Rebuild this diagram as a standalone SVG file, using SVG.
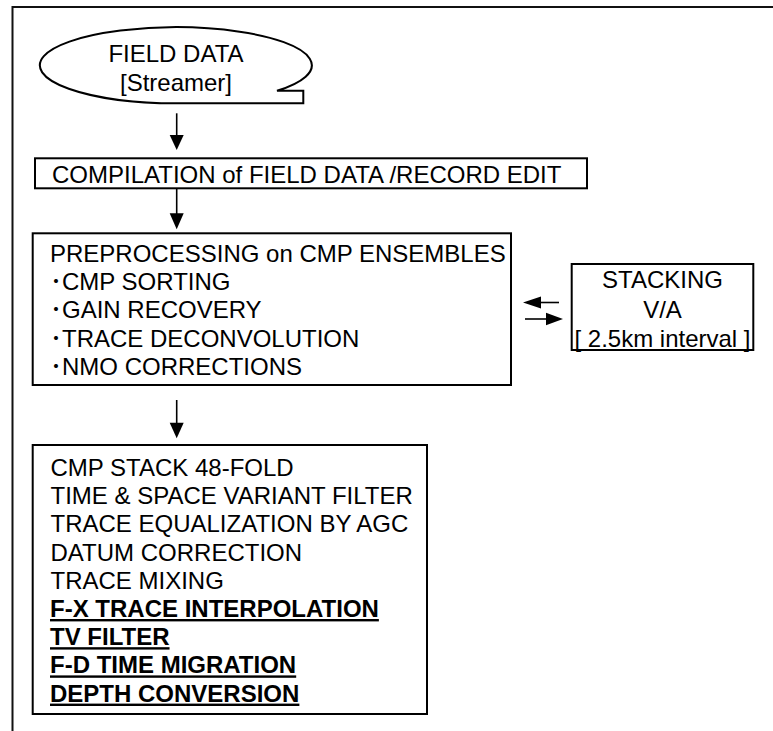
<svg xmlns="http://www.w3.org/2000/svg" width="773" height="731" viewBox="0 0 773 731">
  <style>
    .txt { font-family: "Liberation Sans", Arial, "Noto Sans CJK JP", sans-serif; font-size: 24px; fill: #000; }
    .mid { text-anchor: middle; }
    .bold { font-weight: bold; text-decoration: underline; }
    .box { fill: #fff; stroke: #000; stroke-width: 2; }
    .frame { fill: none; stroke: #111; stroke-width: 2; }
    .conn line { stroke: #000; stroke-width: 1.6; }
    .head { fill: #000; stroke: none; }
  </style>
  <rect width="773" height="731" fill="#fff"/>

  <!-- page frame: top and left rules -->
  <path class="frame" d="M12.5,731 V7 H773"/>

  <!-- tape-shaped source symbol -->
  <g id="field-data">
    <path class="box" d="M277,90.7 L303.3,90.7 L303.3,103.3 L176,103.3 A136,38 0 1 1 277,90.7 Z"/>
    <text class="txt mid" x="176" y="61.7">FIELD DATA</text>
    <text class="txt mid" x="176" y="90.7">[Streamer]</text>
  </g>

  <g id="compilation">
    <rect class="box" x="35" y="158.3" width="552" height="30"/>
    <text class="txt" x="52" y="182.5">COMPILATION of FIELD DATA /RECORD EDIT</text>
  </g>

  <g id="preprocessing">
    <rect class="box" x="32.7" y="233.3" width="478.3" height="151.7"/>
    <text class="txt" x="50" y="261.7">PREPROCESSING on CMP ENSEMBLES</text>
    <text class="txt" x="50" y="290">･CMP SORTING</text>
    <text class="txt" x="50" y="318.4">･GAIN RECOVERY</text>
    <text class="txt" x="50" y="346.8">･TRACE DECONVOLUTION</text>
    <text class="txt" x="50" y="375.2">･NMO CORRECTIONS</text>
  </g>

  <g id="stacking">
    <rect class="box" x="571.7" y="264" width="181.6" height="86"/>
    <text class="txt mid" x="662.5" y="288.3">STACKING</text>
    <text class="txt mid" x="662.5" y="317.5">V/A</text>
    <text class="txt mid" x="662.5" y="346.7">[ 2.5km interval ]</text>
  </g>

  <g id="stack-processing">
    <rect class="box" x="32.7" y="445" width="394.3" height="269"/>
    <text class="txt" x="50.5" y="476">CMP STACK 48-FOLD</text>
    <text class="txt" x="50.5" y="504.2">TIME &amp; SPACE VARIANT FILTER</text>
    <text class="txt" x="50.5" y="532.4">TRACE EQUALIZATION BY AGC</text>
    <text class="txt" x="50.5" y="560.6">DATUM CORRECTION</text>
    <text class="txt" x="50.5" y="588.8">TRACE MIXING</text>
    <text class="txt bold" x="50" y="617">F-X TRACE INTERPOLATION</text>
    <text class="txt bold" x="50" y="645.2">TV FILTER</text>
    <text class="txt bold" x="50" y="673.4">F-D TIME MIGRATION</text>
    <text class="txt bold" x="50" y="701.6">DEPTH CONVERSION</text>
  </g>

  <g id="connectors" class="conn">
    <!-- field data -> compilation -->
    <line x1="176.7" y1="113.3" x2="176.7" y2="136"/>
    <polygon class="head" points="169.7,135 183.7,135 176.7,150"/>
    <!-- compilation -> preprocessing -->
    <line x1="176.7" y1="188.3" x2="176.7" y2="214"/>
    <polygon class="head" points="169.7,213.3 183.7,213.3 176.7,229.3"/>
    <!-- preprocessing -> stack processing -->
    <line x1="176.7" y1="400" x2="176.7" y2="423"/>
    <polygon class="head" points="169.7,422.7 183.7,422.7 176.7,438.3"/>
    <!-- stacking -> preprocessing -->
    <line x1="540" y1="302.5" x2="559" y2="302.5"/>
    <polygon class="head" points="523,302.5 541,296.5 541,308.5"/>
    <!-- preprocessing -> stacking -->
    <line x1="525" y1="319" x2="547" y2="319"/>
    <polygon class="head" points="563,319 546,312.7 546,325.3"/>
  </g>
</svg>
